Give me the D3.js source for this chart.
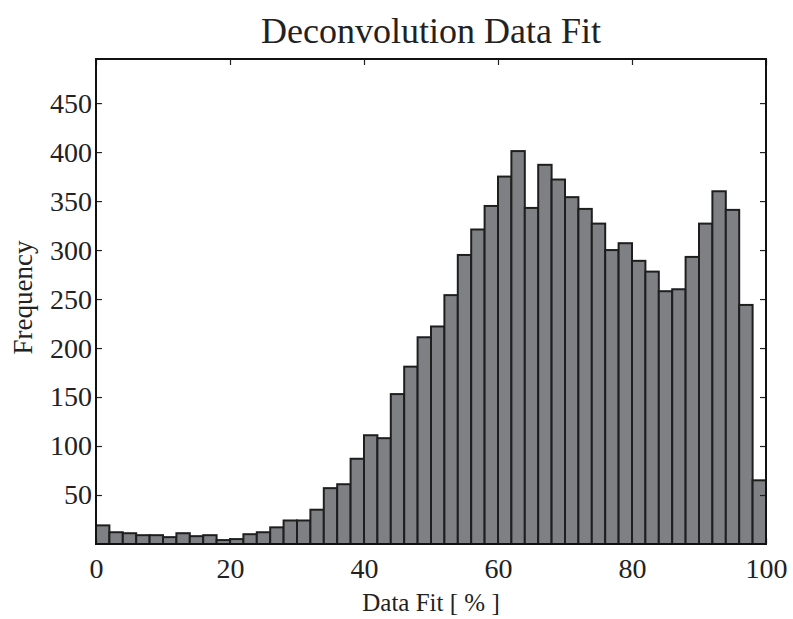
<!DOCTYPE html>
<html>
<head>
<meta charset="utf-8">
<script src="https://cdn.jsdelivr.net/npm/d3@7"></script>
<style>
  html, body { margin: 0; padding: 0; background: #fff; }
  text { font-family: "Liberation Serif", "DejaVu Serif", serif; fill: #222; }
</style>
</head>
<body>
<svg id="chart" width="793" height="619"></svg>
<script>
// Histogram of data fit percentages, 2 % wide bins from 0 to 100
const binStarts = d3.range(0, 100, 2);
const binWidth = 2;
const frequencies = [
  19, 12, 11, 9, 9, 7, 11, 8, 9, 4,
  5, 10, 12, 17, 24, 24, 35, 57, 61, 87,
  111, 108, 153, 181, 211, 222, 254, 295, 321, 345,
  375, 401, 343, 387, 372, 354, 342, 327, 300, 307,
  289, 278, 258, 260, 293, 327, 360, 341, 244, 65
];
const xTicks = [0, 20, 40, 60, 80, 100];
const yTicks = [50, 100, 150, 200, 250, 300, 350, 400, 450];

const svg = d3.select("#chart");
const plot = { left: 96, right: 766, top: 59, bottom: 544 };

const x = d3.scaleLinear().domain([0, 100]).range([plot.left, plot.right]);
const y = d3.scaleLinear().domain([0, 495]).range([plot.bottom, plot.top]);

// bars
svg.append("g")
  .selectAll("rect")
  .data(binStarts.map((s, i) => ({ s, v: frequencies[i] })))
  .join("rect")
  .attr("x", d => x(d.s))
  .attr("y", d => y(d.v))
  .attr("width", d => x(d.s + binWidth) - x(d.s))
  .attr("height", d => y(0) - y(d.v))
  .attr("fill", "#7f8084")
  .attr("stroke", "#1e1e1e")
  .attr("stroke-width", 2);

const tickLen = 6;
const fontSize = 28;

// bottom axis labels + inward ticks on top and bottom
const xAxisB = d3.axisBottom(x).tickValues(xTicks).tickSize(-tickLen).tickPadding(14).tickFormat(d3.format("d"));
const gxb = svg.append("g").attr("transform", `translate(0,${plot.bottom})`).call(xAxisB);
const xAxisT = d3.axisTop(x).tickValues(xTicks).tickSize(-tickLen).tickFormat("");
const gxt = svg.append("g").attr("transform", `translate(0,${plot.top})`).call(xAxisT);

// left axis labels + inward ticks on left and right
const yAxisL = d3.axisLeft(y).tickValues(yTicks).tickSize(-tickLen).tickPadding(4).tickFormat(d3.format("d"));
const gyl = svg.append("g").attr("transform", `translate(${plot.left},0)`).call(yAxisL);
const yAxisR = d3.axisRight(y).tickValues(yTicks).tickSize(-tickLen).tickFormat("");
const gyr = svg.append("g").attr("transform", `translate(${plot.right},0)`).call(yAxisR);

[gxb, gxt, gyl, gyr].forEach(g => {
  g.select(".domain").remove();
  g.selectAll(".tick line").attr("stroke", "#222").attr("stroke-width", 1.2);
  g.selectAll(".tick text")
    .style("font-family", '"Liberation Serif", serif')
    .style("font-size", fontSize + "px")
    .attr("fill", "#222");
});

// frame
svg.append("rect")
  .attr("x", plot.left).attr("y", plot.top)
  .attr("width", plot.right - plot.left)
  .attr("height", plot.bottom - plot.top)
  .attr("fill", "none")
  .attr("stroke", "#111")
  .attr("stroke-width", 2);

// title and axis titles
svg.append("text")
  .attr("x", (plot.left + plot.right) / 2)
  .attr("y", 43)
  .attr("text-anchor", "middle")
  .style("font-size", "36px")
  .text("Deconvolution Data Fit");

svg.append("text")
  .attr("x", (plot.left + plot.right) / 2)
  .attr("y", 611)
  .attr("text-anchor", "middle")
  .style("font-size", "25px")
  .text("Data Fit [ % ]");

svg.append("text")
  .attr("transform", `translate(32,${(plot.top + plot.bottom) / 2 - 4}) rotate(-90)`)
  .attr("text-anchor", "middle")
  .style("font-size", "27px")
  .text("Frequency");
</script>
</body>
</html>
